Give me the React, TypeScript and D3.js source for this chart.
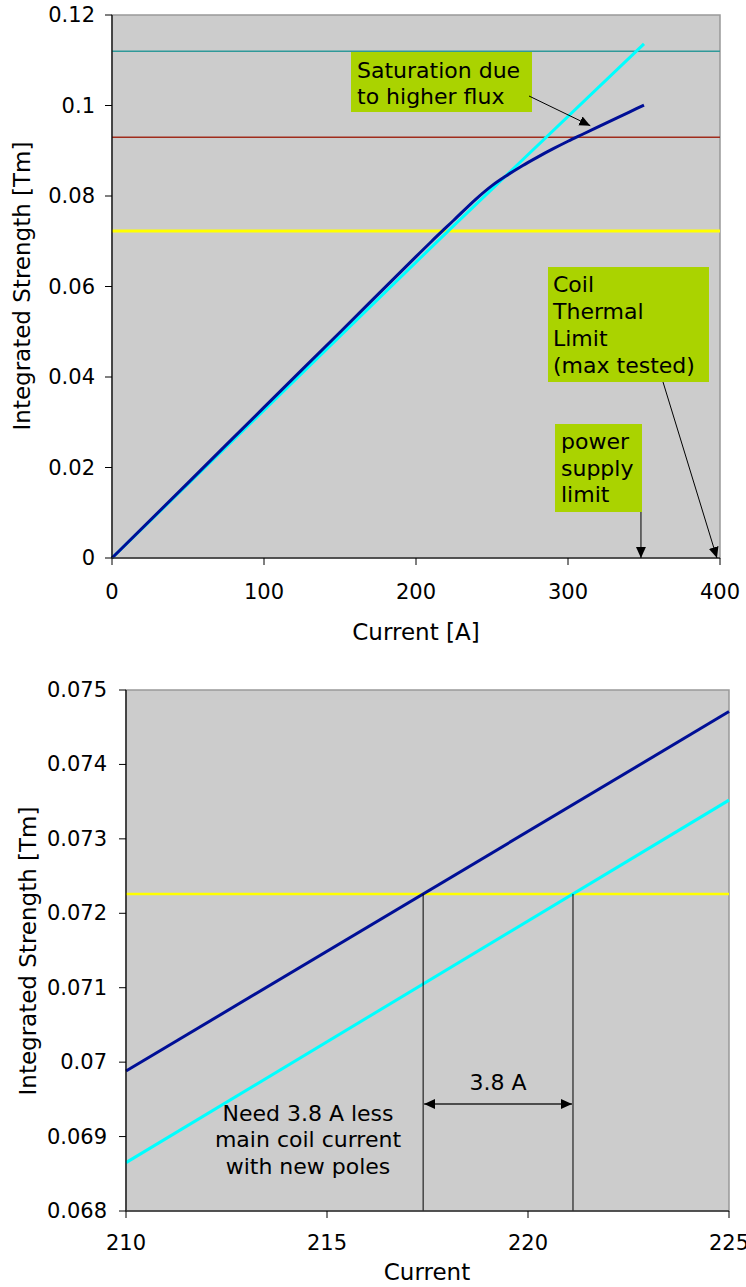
import React from 'react';
import * as d3 from 'd3';

// ---------- DATA ----------
// Top chart: integrated strength vs main coil current
const currentNew = [0, 50, 100, 150, 200, 210, 225, 240, 250, 260, 270, 280, 290, 300, 310, 325, 340, 350];
const strengthNew = [0, 0.0166, 0.0333, 0.0499, 0.0666, 0.0699, 0.0747, 0.0795, 0.0823, 0.0846, 0.0867, 0.0886, 0.0904, 0.0921, 0.0937, 0.0961, 0.0985, 0.1001];
const currentOld = [0, 210, 225, 350];
const strengthOld = [0, 0.06865, 0.07352, 0.1136];
const levelThermal = 0.112;
const levelSupply = 0.093;
const levelTarget = 0.07226;
const topXTicks = [0, 100, 200, 300, 400];
const topYTicks = [0, 0.02, 0.04, 0.06, 0.08, 0.1, 0.12];
const supplyLimitCurrent = 348;
const thermalLimitCurrent = 398;
const saturationPointCurrent = 316;

// Bottom chart: zoom around the target strength
const zoomCurrent = [210, 225];
const zoomNew = [0.06988, 0.07471];
const zoomOld = [0.06865, 0.07352];
const bottomXTicks = [210, 215, 220, 225];
const bottomYTicks = [0.068, 0.069, 0.07, 0.071, 0.072, 0.073, 0.074, 0.075];
const deltaLabel = '3.8 A';

// ---------- STYLE ----------
const FONT = 'DejaVu Sans, Verdana, sans-serif';
const FS_TICK = 21;
const FS_TITLE = 23;
const FS_NOTE = 22;
const BG = '#cccccc';
const NAVY = '#000f96';
const CYAN = '#00ffff';
const TEAL = '#2f9999';
const RED = '#a02c1c';
const YELLOW = '#ffff00';
const GREEN = '#aad300';

function crossAt(xs: number[], ys: number[], level: number) {
  for (let i = 0; i < xs.length - 1; i++) {
    if ((ys[i] - level) * (ys[i + 1] - level) <= 0) {
      const t = (level - ys[i]) / (ys[i + 1] - ys[i]);
      return xs[i] + t * (xs[i + 1] - xs[i]);
    }
  }
  return xs[0];
}

function yFmt(v: number) {
  return String(+v.toFixed(3));
}

export default function App() {
  // top chart scales
  const xT = d3.scaleLinear().domain([0, 400]).range([112, 720]);
  const yT = d3.scaleLinear().domain([0, 0.12]).range([558, 15]);
  // bottom chart scales
  const xB = d3.scaleLinear().domain([210, 225]).range([126, 729]);
  const yB = d3.scaleLinear().domain([0.068, 0.075]).range([1211, 690]);

  const lineNew = d3
    .line<number>()
    .x((_, i) => xT(currentNew[i]))
    .y((d) => yT(d))
    .curve(d3.curveMonotoneX);
  const lineOld = d3
    .line<number>()
    .x((_, i) => xT(currentOld[i]))
    .y((d) => yT(d));

  const lineZNew = d3
    .line<number>()
    .x((_, i) => xB(zoomCurrent[i]))
    .y((d) => yB(d));
  const lineZOld = d3
    .line<number>()
    .x((_, i) => xB(zoomCurrent[i]))
    .y((d) => yB(d));

  const iNew = crossAt(zoomCurrent, zoomNew, levelTarget);
  const iOld = crossAt(zoomCurrent, zoomOld, levelTarget);

  const satY = d3.scaleLinear().domain(currentNew).range(strengthNew)(saturationPointCurrent);

  const tick = { fontFamily: FONT, fontSize: FS_TICK, fill: '#000' } as const;
  const title = { fontFamily: FONT, fontSize: FS_TITLE, fill: '#000' } as const;
  const note = { fontFamily: FONT, fontSize: FS_NOTE, fill: '#000' } as const;

  return (
    <svg width={746} height={1287} style={{ position: 'absolute', left: 0, top: 0 }}>
      <defs>
        <marker id="ah" viewBox="0 0 10 10" refX="10" refY="5" markerWidth="11" markerHeight="11" markerUnits="userSpaceOnUse" orient="auto">
          <path d="M0,0.5 L10,5 L0,9.5 Z" fill="#000" />
        </marker>
        <marker id="ahs" viewBox="0 0 10 10" refX="10" refY="5" markerWidth="11" markerHeight="11" markerUnits="userSpaceOnUse" orient="auto-start-reverse">
          <path d="M0,0.5 L10,5 L0,9.5 Z" fill="#000" />
        </marker>
      </defs>
      <rect x={0} y={0} width={746} height={1287} fill="#fff" />

      {/* ============ TOP CHART ============ */}
      <rect x={xT(0)} y={yT(0.12)} width={xT(400) - xT(0)} height={yT(0) - yT(0.12)} fill={BG} stroke="#999" strokeWidth={1.5} />
      <line x1={xT(0)} x2={xT(400)} y1={yT(levelThermal)} y2={yT(levelThermal)} stroke={TEAL} strokeWidth={1.5} />
      <line x1={xT(0)} x2={xT(400)} y1={yT(levelSupply)} y2={yT(levelSupply)} stroke={RED} strokeWidth={1.5} />
      <line x1={xT(0)} x2={xT(400)} y1={yT(levelTarget)} y2={yT(levelTarget)} stroke={YELLOW} strokeWidth={3} />
      <path d={lineOld(strengthOld) || ''} fill="none" stroke={CYAN} strokeWidth={3} />
      <path d={lineNew(strengthNew) || ''} fill="none" stroke={NAVY} strokeWidth={3} />

      {/* axes */}
      <line x1={xT(0)} x2={xT(0)} y1={yT(0.12)} y2={yT(0)} stroke="#000" strokeWidth={1.2} />
      <line x1={xT(0)} x2={xT(400)} y1={yT(0)} y2={yT(0)} stroke="#333" strokeWidth={1.5} />
      {topYTicks.map((t) => (
        <g key={'ty' + t}>
          <line x1={xT(0) - 7} x2={xT(0)} y1={yT(t)} y2={yT(t)} stroke="#000" />
          <text {...tick} x={xT(0) - 17} y={yT(t)} textAnchor="end" dominantBaseline="central">{yFmt(t)}</text>
        </g>
      ))}
      {topXTicks.map((t) => (
        <g key={'tx' + t}>
          <line x1={xT(t)} x2={xT(t)} y1={yT(0)} y2={yT(0) + 7} stroke="#000" />
          <text {...tick} x={xT(t)} y={592} textAnchor="middle" dominantBaseline="central">{t}</text>
        </g>
      ))}
      <text {...title} x={416} y={632} textAnchor="middle" dominantBaseline="central">Current [A]</text>
      <text {...title} transform="translate(22,286) rotate(-90)" textAnchor="middle" dominantBaseline="central">Integrated Strength [Tm]</text>

      {/* annotations */}
      <rect x={351} y={52} width={181} height={60} fill={GREEN} />
      <text {...note} x={357} y={78}>Saturation due</text>
      <text {...note} x={357} y={104}>to higher flux</text>
      <line x1={529} y1={96} x2={xT(saturationPointCurrent) - 2} y2={yT(satY) - 4} stroke="#000" strokeWidth={1} markerEnd="url(#ah)" />

      <rect x={548} y={267} width={161} height={115} fill={GREEN} />
      {['Coil', 'Thermal', 'Limit', '(max tested)'].map((s, i) => (
        <text key={s} {...note} x={553} y={292 + i * 27}>{s}</text>
      ))}
      <line x1={663} y1={382} x2={xT(thermalLimitCurrent)} y2={yT(0)} stroke="#000" strokeWidth={1} markerEnd="url(#ah)" />

      <rect x={555} y={424} width={87} height={88} fill={GREEN} />
      {['power', 'supply', 'limit'].map((s, i) => (
        <text key={s} {...note} x={561} y={449 + i * 26.5}>{s}</text>
      ))}
      <line x1={xT(supplyLimitCurrent)} y1={512} x2={xT(supplyLimitCurrent)} y2={yT(0)} stroke="#000" strokeWidth={1} markerEnd="url(#ah)" />

      {/* ============ BOTTOM CHART ============ */}
      <rect x={xB(210)} y={yB(0.075)} width={xB(225) - xB(210)} height={yB(0.068) - yB(0.075)} fill={BG} stroke="#999" strokeWidth={1.5} />
      <line x1={xB(210)} x2={xB(225)} y1={yB(levelTarget)} y2={yB(levelTarget)} stroke={YELLOW} strokeWidth={2.5} />
      <path d={lineZOld(zoomOld) || ''} fill="none" stroke={CYAN} strokeWidth={3} />
      <path d={lineZNew(zoomNew) || ''} fill="none" stroke={NAVY} strokeWidth={3} />
      <line x1={xB(iNew)} x2={xB(iNew)} y1={yB(levelTarget)} y2={yB(0.068)} stroke="#000" strokeWidth={1} />
      <line x1={xB(iOld)} x2={xB(iOld)} y1={yB(levelTarget)} y2={yB(0.068)} stroke="#000" strokeWidth={1} />
      <line x1={xB(iNew) + 1} x2={xB(iOld) - 1} y1={1104} y2={1104} stroke="#222" strokeWidth={1.5} markerStart="url(#ahs)" markerEnd="url(#ah)" />
      <text {...note} x={(xB(iNew) + xB(iOld)) / 2} y={1082} textAnchor="middle" dominantBaseline="central">
        {deltaLabel}
      </text>
      {['Need 3.8 A less', 'main coil current', 'with new poles'].map((s, i) => (
        <text key={s} {...note} x={308} y={1113 + i * 26.5} textAnchor="middle" dominantBaseline="central">{s}</text>
      ))}

      <line x1={xB(210)} x2={xB(210)} y1={yB(0.075)} y2={yB(0.068)} stroke="#000" strokeWidth={1.2} />
      <line x1={xB(210)} x2={xB(225)} y1={yB(0.068)} y2={yB(0.068)} stroke="#333" strokeWidth={1.5} />
      {bottomYTicks.map((t) => (
        <g key={'by' + t}>
          <line x1={xB(210) - 7} x2={xB(210)} y1={yB(t)} y2={yB(t)} stroke="#000" />
          <text {...tick} x={xB(210) - 19} y={yB(t)} textAnchor="end" dominantBaseline="central">{yFmt(t)}</text>
        </g>
      ))}
      {bottomXTicks.map((t) => (
        <g key={'bx' + t}>
          <line x1={xB(t)} x2={xB(t)} y1={yB(0.068)} y2={yB(0.068) + 7} stroke="#000" />
          <text {...tick} x={xB(t)} y={1243} textAnchor="middle" dominantBaseline="central">{t}</text>
        </g>
      ))}
      <text {...title} x={427} y={1272} textAnchor="middle" dominantBaseline="central">Current</text>
      <text {...title} transform="translate(28,951) rotate(-90)" textAnchor="middle" dominantBaseline="central">Integrated Strength [Tm]</text>
    </svg>
  );
}
